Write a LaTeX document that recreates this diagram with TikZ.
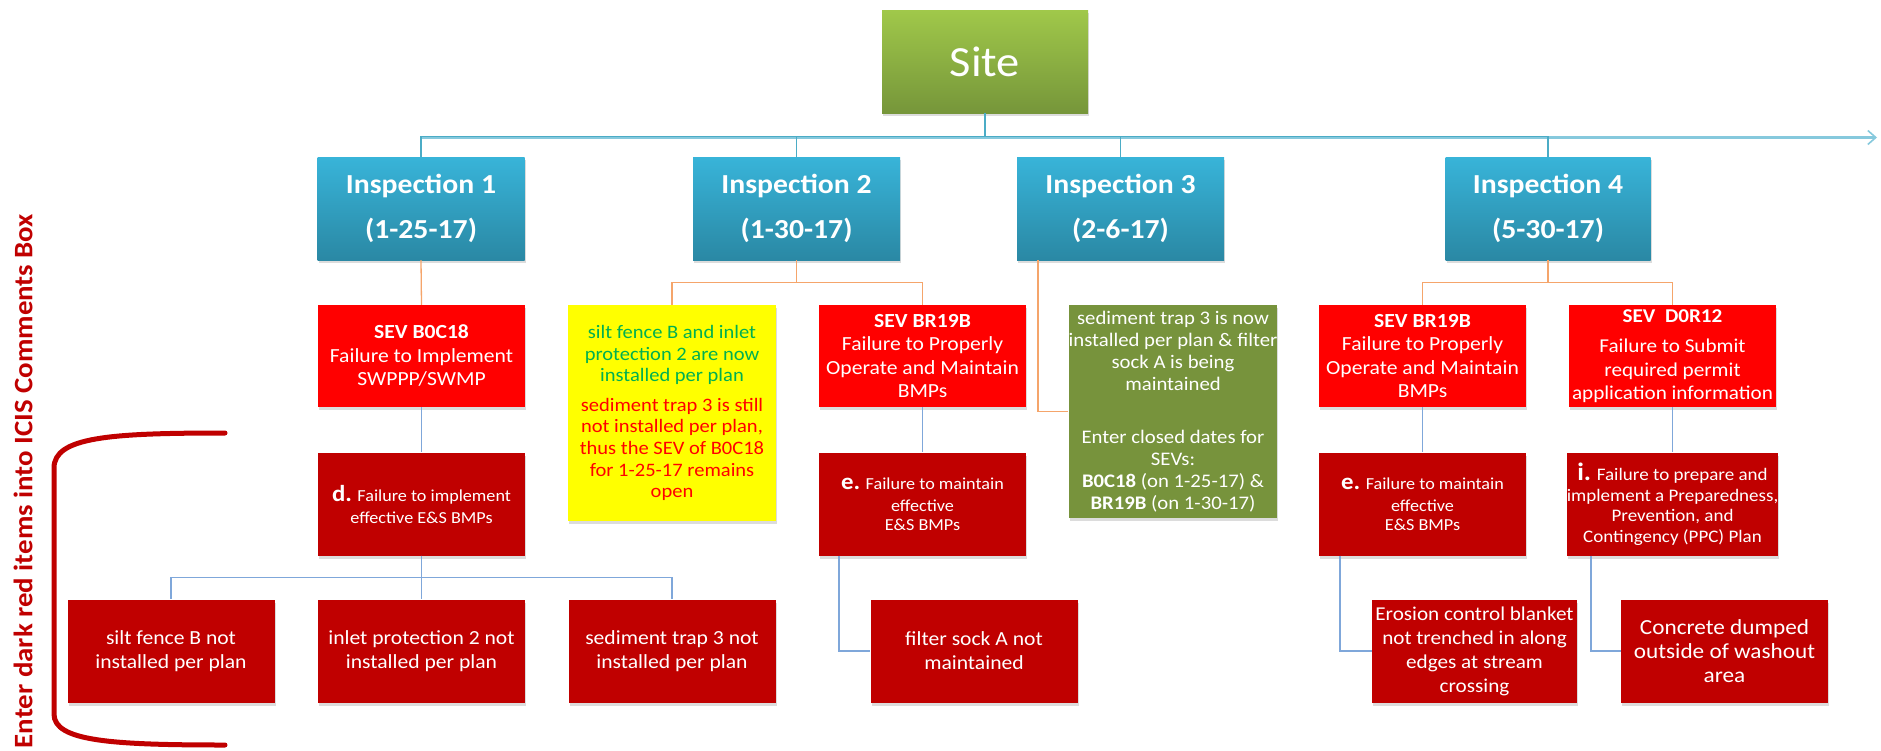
\documentclass[tikz,border=0pt]{standalone}
\usepackage{fontspec}
\setmainfont[FakeStretch=1.08]{Carlito}
\usetikzlibrary{arrows.meta,shadows}
\definecolor{sevred}{HTML}{FF0000}
\definecolor{dkred}{HTML}{C00000}
\definecolor{yelbox}{HTML}{FFFF00}
\definecolor{olivebox}{HTML}{77933C}
\definecolor{sitetop}{HTML}{A0C84A}
\definecolor{sitebot}{HTML}{76963A}
\definecolor{insptop}{HTML}{38B4D9}
\definecolor{inspbot}{HTML}{2A88A4}
\definecolor{treeblue}{HTML}{4BACC6}
\definecolor{busblue}{HTML}{86C9DD}
\definecolor{orangeln}{HTML}{F5A56B}
\definecolor{steelln}{HTML}{7FA7DA}
\definecolor{txtgreen}{HTML}{00B050}
\begin{document}
\begin{tikzpicture}[x=1pt,y=-1pt,
  shad/.style={drop shadow={opacity=0.28,shadow xshift=1pt,shadow yshift=-3pt}},
  box/.style={shad,draw=none,minimum width=207pt,minimum height=103pt,inner sep=0pt,align=center,text=white},
  sitebox/.style={box,minimum width=206pt,top color=sitetop,bottom color=sitebot,font=\fontsize{43}{50}\selectfont},
  inspbox/.style={box,top color=insptop,bottom color=inspbot,font=\bfseries\fontsize{27.5}{45}\selectfont},
  sevbox/.style={box,minimum height=102pt,fill=sevred,font=\fontsize{20}{23.5}\selectfont},
  codebox/.style={box,fill=dkred,font=\fontsize{16.8}{22}\selectfont},
  itembox/.style={box,fill=dkred,font=\fontsize{20}{24}\selectfont},
  notebox/.style={box,fill=yelbox,minimum height=216pt,minimum width=208pt,font=\fontsize{19}{21.6}\selectfont},
  greenbox/.style={box,fill=olivebox,minimum height=213pt,minimum width=206pt,font=\fontsize{19.2}{22}\selectfont},
  tree/.style={draw=treeblue,line width=1.3pt},
  busarrow/.style={draw=busblue,line width=2.6pt,-{Straight Barb[length=8pt,width=14pt,line width=1.6pt]}},
  orangecon/.style={draw=orangeln,line width=1.3pt},
  bluecon/.style={draw=steelln,line width=1.3pt},
  bracket/.style={draw=dkred,line width=5pt,line cap=round},
  sidetext/.style={rotate=90,text=dkred,font=\bfseries\fontsize{26.7}{30}\selectfont}]
\useasboundingbox (0,0) rectangle (1881,750);

% top level
\node[sitebox] (site) at (985,61.5) {Site};
\node[inspbox] (insp1) at (421,208.5) {Inspection 1\\(1-25-17)};
\node[inspbox] (insp2) at (796.5,208.5) {Inspection 2\\(1-30-17)};
\node[inspbox] (insp3) at (1120.5,208.5) {Inspection 3\\(2-6-17)};
\node[inspbox,minimum width=205pt] (insp4) at (1548,208.5) {Inspection 4\\(5-30-17)};

% bus with arrow
\coordinate (busstart) at (421,137.5);
\coordinate (busend) at (1877,137.5);
\draw[busarrow] (busstart) -- (busend);
\foreach \n in {insp1,insp2,insp3,insp4}
  \draw[tree] (site.south) -- ++(0,23) -| (\n.north);

% second level
\node[sevbox] (sev1) at (421.5,356) {\textbf{SEV B0C18}\\Failure to Implement\\SWPPP/SWMP};
\node[notebox] (note) at (672,413) {\textcolor{txtgreen}{silt fence B and inlet}\\\textcolor{txtgreen}{protection 2 are now}\\\textcolor{txtgreen}{installed per plan}\\[8pt]\textcolor{sevred}{sediment trap 3 is still}\\\textcolor{sevred}{not installed per plan,}\\\textcolor{sevred}{thus the SEV of B0C18}\\\textcolor{sevred}{for 1-25-17 remains}\\\textcolor{sevred}{open}};
\node[sevbox] (sev2) at (922.5,356) {\textbf{SEV BR19B}\\Failure to Properly\\Operate and Maintain\\BMPs};
\node[greenbox] (green) at (1173,411.5) {sediment trap 3 is now\\installed per plan \& filter\\sock A is being\\maintained\\[31pt]Enter closed dates for\\SEVs:\\\textbf{B0C18} (on 1-25-17) \&\\\textbf{BR19B} (on 1-30-17)};
\node[sevbox] (sev4a) at (1422.5,356) {\textbf{SEV BR19B}\\Failure to Properly\\Operate and Maintain\\BMPs};
\node[sevbox,font=\fontsize{19.6}{23.5}\selectfont] (sev4b) at (1672.5,356) {\textbf{SEV\ \ D0R12}\\[7pt]Failure to Submit\\required permit\\application information};

% third level
\node[codebox] (dbox) at (421.5,504) {{\fontsize{23}{22}\selectfont\bfseries d.} Failure to implement\\effective E\&S BMPs};
\node[codebox] (e2) at (922.5,504) {{\fontsize{23}{22}\selectfont\bfseries e.} Failure to maintain\\effective\\[-3pt]E\&S BMPs};
\node[codebox] (e4) at (1422.5,504) {{\fontsize{23}{22}\selectfont\bfseries e.} Failure to maintain\\effective\\[-3pt]E\&S BMPs};
\node[codebox,font=\fontsize{17.6}{20.5}\selectfont] (i4) at (1672.5,504) {{\fontsize{25}{20}\selectfont\bfseries i.} Failure to prepare and\\implement a Preparedness,\\Prevention, and\\Contingency (PPC) Plan};

% fourth level
\node[itembox] (silt) at (171,651) {silt fence B not\\installed per plan};
\node[itembox] (inlet) at (421.5,651) {inlet protection 2 not\\installed per plan};
\node[itembox] (sed) at (672,651) {sediment trap 3 not\\installed per plan};
\node[itembox] (filter) at (974,651) {filter sock A not\\maintained};
\node[itembox,minimum width=205pt,font=\fontsize{19.6}{24}\selectfont] (erosion) at (1474.5,651) {Erosion control blanket\\not trenched in along\\edges at stream\\crossing};
\node[itembox,font=\fontsize{21.5}{24}\selectfont] (concrete) at (1724.5,651) {Concrete dumped\\outside of washout\\area};

% orange connectors
\draw[orangecon] (insp1.south) -- (sev1.north);
\draw[orangecon] (insp2.south) -- ++(0,22.5) -| (note.north);
\draw[orangecon] (insp2.south) -- ++(0,22.5) -| (sev2.north);
\draw[orangecon] ([xshift=-82.5pt]insp3.south) |- (green.west);
\draw[orangecon] (insp4.south) -- ++(0,22.5) -| (sev4a.north);
\draw[orangecon] (insp4.south) -- ++(0,22.5) -| (sev4b.north);

% blue connectors
\draw[bluecon] (sev1.south) -- (dbox.north);
\foreach \n in {silt,inlet,sed}
  \draw[bluecon] (dbox.south) -- ++(0,22) -| (\n.north);
\draw[bluecon] (sev2.south) -- (e2.north);
\draw[bluecon] ([xshift=-83.5pt]e2.south) |- (filter.west);
\draw[bluecon] (sev4a.south) -- (e4.north);
\draw[bluecon] ([xshift=-82.5pt]e4.south) |- (erosion.west);
\draw[bluecon] (sev4b.south) -- (i4.north);
\draw[bluecon] ([xshift=-81.5pt]i4.south) |- (concrete.west);

% bracket and side text
\draw[bracket] (225,433) .. controls (110,433) and (54,437) .. (54,468) -- (54,714) .. controls (54,741) and (110,745) .. (225,745);
\node[sidetext] (sidelabel) at (23,481) {Enter dark red items into ICIS Comments Box};
\end{tikzpicture}
\end{document}
